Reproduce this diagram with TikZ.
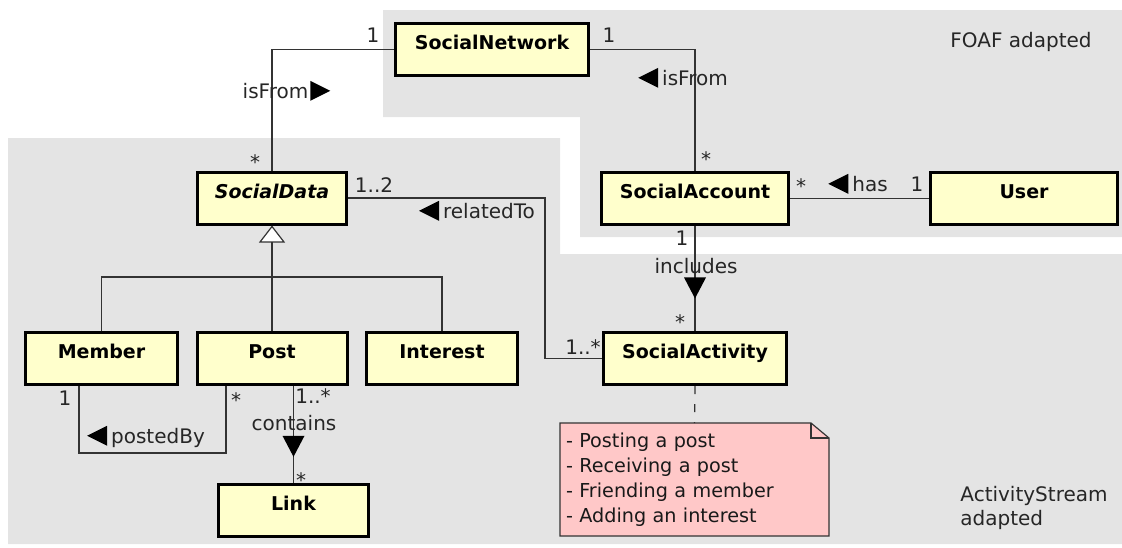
\documentclass[tikz,border=0pt]{standalone}
\usepackage{fontspec}
\setmainfont{DejaVu Sans}
\usetikzlibrary{arrows.meta,backgrounds}

\definecolor{zonegray}{RGB}{228,228,228}
\definecolor{classyellow}{RGB}{255,255,204}
\definecolor{notepink}{RGB}{255,200,200}

\newcommand{\triL}{\tikz[baseline=-3.6pt]\fill[black] (0pt,0pt) -- (10pt,5pt) -- (10pt,-5pt) -- cycle;}
\newcommand{\triR}{\tikz[baseline=-3.6pt]\fill[black] (10pt,0pt) -- (0pt,5pt) -- (0pt,-5pt) -- cycle;}
\newcommand{\triD}{\tikz\fill[black] (-5.5pt,5.25pt) -- (5.5pt,5.25pt) -- (0pt,-5.25pt) -- cycle;}

\begin{document}
\begin{tikzpicture}[x=0.5pt,y=-0.5pt]

\tikzstyle{cls}=[rectangle,draw,line width=1.5pt,fill=classyellow,minimum height=26pt,text height=7pt,text depth=7pt,font=\bfseries\fontsize{9.5}{11}\selectfont]
\tikzstyle{lbl}=[inner sep=0pt,text=black!85,text height=7pt,text depth=2pt,font=\fontsize{10}{12}\selectfont]
\tikzstyle{assoc}=[draw=black!80,line width=0.6pt]
\tikzstyle{zone}=[fill=zonegray]

\useasboundingbox (0,0) rectangle (1122,547) ;

% classes
\draw (492,49.5) node (net) [cls,minimum width=96.5pt] {SocialNetwork} ;
\draw (272,198) node (data) [cls,minimum width=74.5pt] {\itshape SocialData} ;
\draw (695,198.5) node (acct) [cls,minimum width=93.5pt] {SocialAccount} ;
\draw (1024,198.5) node (user) [cls,minimum width=93.5pt] {User} ;
\draw (101.5,358.5) node (member) [cls,minimum width=76pt] {Member} ;
\draw (272,358.5) node (post) [cls,minimum width=75pt] {Post} ;
\draw (442,358.5) node (interest) [cls,minimum width=75.5pt] {Interest} ;
\draw (293.5,510) node (link) [cls,minimum width=75pt] {Link} ;
\draw (695,358.5) node (act) [cls,minimum width=91.5pt] {SocialActivity} ;

% note
\draw (694.5,479.5) node (note) [inner xsep=3pt,inner ysep=0pt,outer sep=0pt,minimum height=56.5pt,text width=128.5pt,align=left,text=black!90,font=\fontsize{9.6}{12.5}\selectfont] {- Posting a post\\- Receiving a post\\- Friending a member\\- Adding an interest} ;

% associations
\draw[assoc] (net.west) -| (data.north) ;
\draw[assoc] (net.east) -| (acct.north) ;
\draw[assoc] (acct.east) -- (user.west) ;
\draw[assoc] (acct.south) -- (act.north) node[pos=0.59,inner sep=0pt] (incl) {\triD} ;
\coordinate (rel) at (545,280) ;
\draw[assoc] (data.east) -| (rel) |- (act.west) ;
\coordinate (gen) at (272,277) ;
\draw[assoc] (member.north) |- (gen) -| (interest.north) ;
\draw[assoc,-{Triangle[width=13pt,length=8.5pt,fill=white]}] (post.north) -- (data.south) ;
\coordinate (pby) at (150,453) ;
\draw[assoc] ([xshift=-11.25pt]member.south) |- (pby) -| ([xshift=-23pt]post.south) ;
\draw[assoc] (post.south -| link.north) -- (link.north) node[pos=0.625,inner sep=0pt] (cont) {\triD} ;
\draw[assoc,dash pattern=on 4pt off 5pt] (act.south) -- (note.north) ;

% labels
\draw (373,37) node (m1) [lbl] {1} ;
\draw (255,164) node (m2) [lbl] {*} ;
\draw (286.5,93) node (r1) [lbl] {isFrom\hspace{1pt}\triR} ;
\draw (609,37) node (m3) [lbl] {1} ;
\draw (706,161) node (m4) [lbl] {*} ;
\draw (683,80) node (r2) [lbl] {\triL\hspace{2pt}isFrom} ;
\draw (801,188) node (m5) [lbl] {*} ;
\draw (858,186) node (r3) [lbl] {\triL\hspace{2pt}has} ;
\draw (917,186) node (m6) [lbl] {1} ;
\draw (682,240) node (m7) [lbl] {1} ;
\draw (696,268) node (r4) [lbl] {includes} ;
\draw (680,324) node (m8) [lbl] {*} ;
\draw (374,187) node (m9) [lbl] {1..2} ;
\draw (477,213) node (r5) [lbl] {\triL\hspace{2pt}relatedTo} ;
\draw (583,349) node (m10) [lbl] {1..*} ;
\draw (65,400) node (m11) [lbl] {1} ;
\draw (236,402) node (m12) [lbl] {*} ;
\draw (146,438) node (r6) [lbl] {\triL\hspace{2pt}postedBy} ;
\draw (313,398) node (m13) [lbl] {1..*} ;
\draw (294,425) node (r7) [lbl] {contains} ;
\draw (301,482) node (m14) [lbl] {*} ;

\draw (1021,42) node (foaf) [lbl] {FOAF adapted} ;
\draw (960,508) node (astream) [anchor=west,align=left,inner sep=0pt,text=black!85,font=\fontsize{10}{12}\selectfont] {ActivityStream\\adapted} ;

% packages and note outline
\begin{scope}[on background layer]
\fill[zone] (383,10) -- (1122,10) -- (1122,237) -- (580,237) -- (580,117) -- (383,117) -- cycle ;
\fill[zone] (8,138) -- (560,138) -- (560,254) -- (1122,254) -- (1122,544) -- (8,544) -- cycle ;
\draw[fill=notepink,draw=black!80,line width=0.6pt] (note.north west) -- ([xshift=-9pt]note.north east) -- ([yshift=-7.5pt]note.north east) -- (note.south east) -- (note.south west) -- cycle ;
\draw[black!80,line width=0.6pt] ([xshift=-9pt]note.north east) |- ([yshift=-7.5pt]note.north east) ;
\end{scope}

\end{tikzpicture}
\end{document}
